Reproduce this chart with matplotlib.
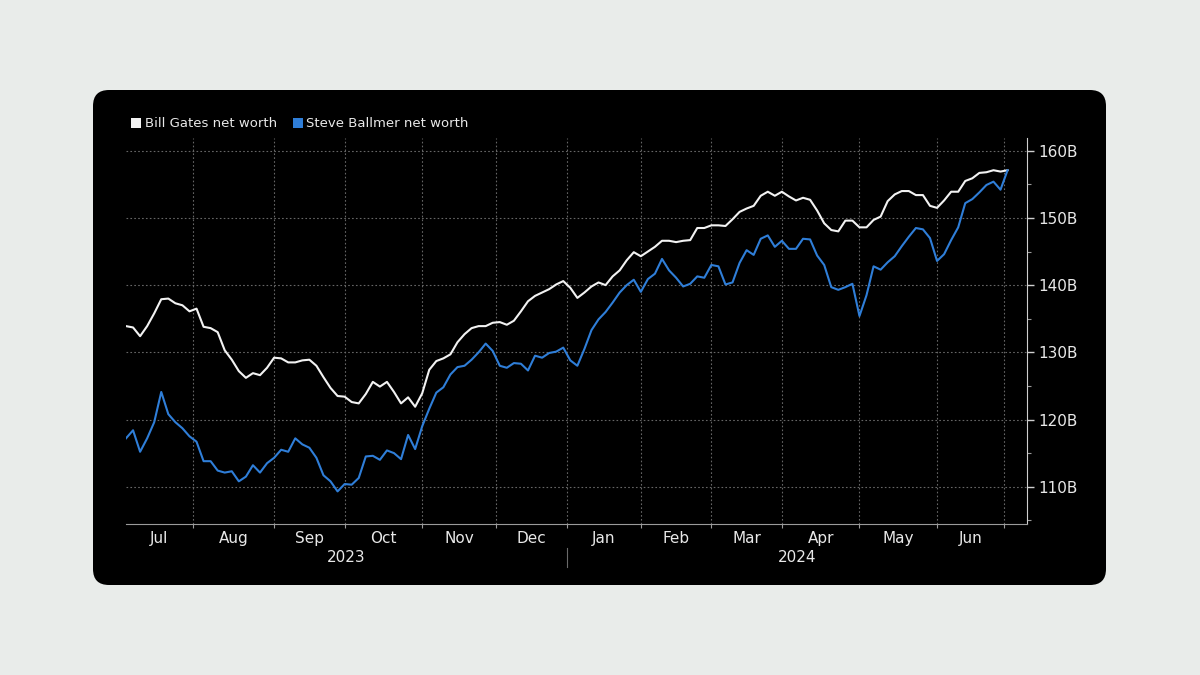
import numpy as np
import pandas as pd
import matplotlib
matplotlib.use("Agg")
import matplotlib.pyplot as plt
import matplotlib.transforms as mtransforms
from matplotlib.patches import FancyBboxPatch, Patch
from matplotlib.ticker import FixedLocator, MultipleLocator, NullFormatter

plt.rcParams["font.family"] = ["DejaVu Sans"]

# NYSE closures inside the window
HOLIDAYS = ["2023-09-04", "2023-11-23", "2023-12-25", "2024-01-01", "2024-01-15",
            "2024-02-19", "2024-03-29", "2024-05-27", "2024-06-19"]
trading_days = pd.bdate_range("2023-07-05", "2024-07-02").difference(pd.to_datetime(HOLIDAYS))
sample_days = trading_days[::2]   # values read every second session

# net worth, $B
GATES = [
    133.9, 133.7, 132.4, 133.9, 135.8, 137.9, 138.0, 137.3, 137.0, 136.1,
    136.5, 133.8, 133.6, 133.0, 130.3, 128.9, 127.2, 126.2, 126.9, 126.6,
    127.7, 129.2, 129.1, 128.5, 128.5, 128.8, 128.9, 128.0, 126.3, 124.7,
    123.5, 123.4, 122.6, 122.4, 123.8, 125.6, 124.9, 125.6, 124.1, 122.4,
    123.3, 121.9, 123.9, 127.4, 128.7, 129.1, 129.7, 131.5, 132.7, 133.6,
    133.9, 133.9, 134.4, 134.5, 134.1, 134.7, 136.1, 137.6, 138.4, 138.9,
    139.4, 140.1, 140.6, 139.6, 138.1, 138.9, 139.8, 140.4, 140.0, 141.3,
    142.2, 143.7, 144.9, 144.3, 145.0, 145.7, 146.6, 146.6, 146.4, 146.6,
    146.7, 148.5, 148.5, 148.9, 148.9, 148.8, 149.8, 150.9, 151.4, 151.8,
    153.3, 153.9, 153.3, 153.9, 153.2, 152.6, 153.0, 152.7, 151.1, 149.2,
    148.2, 148.0, 149.6, 149.6, 148.6, 148.6, 149.7, 150.2, 152.5, 153.5,
    154.0, 154.0, 153.4, 153.4, 151.8, 151.5, 152.6, 153.9, 153.9, 155.5,
    155.9, 156.7, 156.8, 157.1, 156.9, 157.1,
]
BALLMER = [
    117.2, 118.4, 115.2, 117.2, 119.6, 124.1, 120.8, 119.6, 118.7, 117.5,
    116.7, 113.8, 113.8, 112.4, 112.1, 112.3, 110.8, 111.5, 113.2, 112.1,
    113.5, 114.3, 115.5, 115.2, 117.2, 116.3, 115.8, 114.3, 111.7, 110.8,
    109.3, 110.4, 110.3, 111.3, 114.5, 114.6, 114.0, 115.4, 115.0, 114.1,
    117.7, 115.6, 119.0, 121.6, 124.0, 124.8, 126.7, 127.8, 128.0, 128.9,
    130.0, 131.3, 130.2, 128.0, 127.7, 128.4, 128.3, 127.3, 129.5, 129.2,
    129.9, 130.1, 130.7, 128.8, 128.0, 130.5, 133.3, 134.9, 136.0, 137.4,
    138.9, 140.0, 140.8, 139.0, 140.9, 141.7, 143.9, 142.2, 141.1, 139.8,
    140.2, 141.3, 141.1, 143.0, 142.8, 140.1, 140.4, 143.3, 145.2, 144.5,
    146.9, 147.4, 145.7, 146.6, 145.4, 145.4, 146.9, 146.8, 144.4, 143.0,
    139.7, 139.3, 139.7, 140.2, 135.4, 138.5, 142.8, 142.3, 143.4, 144.3,
    145.8, 147.2, 148.5, 148.3, 147.0, 143.6, 144.6, 146.7, 148.6, 152.2,
    152.8, 153.8, 154.9, 155.4, 154.2, 157.1,
]
Y_TICKS = [110, 120, 130, 140, 150, 160]
SERIES_LABELS = ["Bill Gates net worth", "Steve Ballmer net worth"]

PAGE_BG = "#e9ecea"
PANEL = "#000000"
TEXT = "#e8e8e8"
GRID = "#666666"
WHITE_LINE = "#f2f2f2"
BLUE_LINE = "#2f7ed8"

fig = plt.figure(figsize=(12, 6.75), dpi=100, facecolor=PAGE_BG)
panel = FancyBboxPatch((0.93, 0.90), 10.13, 4.95, boxstyle="round,pad=0,rounding_size=0.16",
                       transform=fig.dpi_scale_trans, facecolor=PANEL, edgecolor="none", zorder=-5)
fig.patches.append(panel)

ax = fig.add_axes([0.105, 0.2237, 0.7508, 0.5719])
ax.set_facecolor(PANEL)

x = trading_days.get_indexer(sample_days)
ax.plot(x, GATES, color=WHITE_LINE, lw=1.5, zorder=3)
ax.plot(x, BALLMER, color=BLUE_LINE, lw=1.5, zorder=3)

ax.set_xlim(0, 255.5)
ax.set_ylim(104.45, 161.9)

# month boundaries = first session of each month
month_period = trading_days.to_period("M")
month_starts = [i for i in range(1, len(trading_days)) if month_period[i] != month_period[i - 1]]
bounds = [0] + month_starts
centers = [(a + b) / 2 for a, b in zip(bounds[:-1], bounds[1:])]
month_names = [trading_days[b].strftime("%b") for b in bounds[:-1]]

ax.xaxis.set_major_locator(FixedLocator(month_starts))
ax.xaxis.set_major_formatter(NullFormatter())
ax.xaxis.set_minor_locator(FixedLocator(centers))
ax.set_xticklabels(month_names, minor=True)
ax.tick_params(axis="x", which="major", length=3, color="#9a9a9a", direction="out")
ax.tick_params(axis="x", which="minor", length=0, pad=5, labelsize=11, labelcolor=TEXT)

ax.yaxis.tick_right()
ax.yaxis.set_major_locator(FixedLocator(Y_TICKS))
ax.yaxis.set_minor_locator(MultipleLocator(5))
ax.set_yticklabels([f"{v}B" for v in Y_TICKS])
ax.tick_params(axis="y", which="major", length=5, width=1, color="#cfcfcf",
               pad=3, labelsize=11, labelcolor=TEXT)
ax.tick_params(axis="y", which="minor", length=3, width=0.8, color="#9a9a9a")

ax.grid(True, which="major", axis="both", color=GRID, linestyle=(0, (1.5, 2)), lw=0.8)

for side in ["top", "left"]:
    ax.spines[side].set_visible(False)
ax.spines["right"].set_color("#cfcfcf")
ax.spines["bottom"].set_color("#9a9a9a")

# year labels under the months, with a divider at the turn of the year
jan_idx = month_starts[[trading_days[i].month for i in month_starts].index(1)]
trans = mtransforms.blended_transform_factory(ax.transData, ax.transAxes)
ax.text(jan_idx / 2, -0.087, "2023", transform=trans, ha="center", va="center",
        fontsize=11, color=TEXT)
ax.text((jan_idx + ax.get_xlim()[1]) / 2, -0.087, "2024", transform=trans,
        ha="center", va="center", fontsize=11, color=TEXT)
ax.plot([jan_idx, jan_idx], [-0.062, -0.111], transform=trans, color="#6a6a6a",
        lw=0.8, clip_on=False)

handles = [Patch(facecolor=WHITE_LINE, edgecolor="none"),
           Patch(facecolor=BLUE_LINE, edgecolor="none")]
leg = ax.legend(handles, SERIES_LABELS, loc="center left", bbox_to_anchor=(0.109, 0.8163),
                bbox_transform=fig.transFigure, ncol=2, frameon=False, fontsize=9.5,
                handlelength=0.75, handleheight=0.75, handletextpad=0.3,
                columnspacing=1.2, borderaxespad=0, borderpad=0)
for t in leg.get_texts():
    t.set_color(TEXT)

fig.savefig("out.png", dpi=100, facecolor=PAGE_BG)
